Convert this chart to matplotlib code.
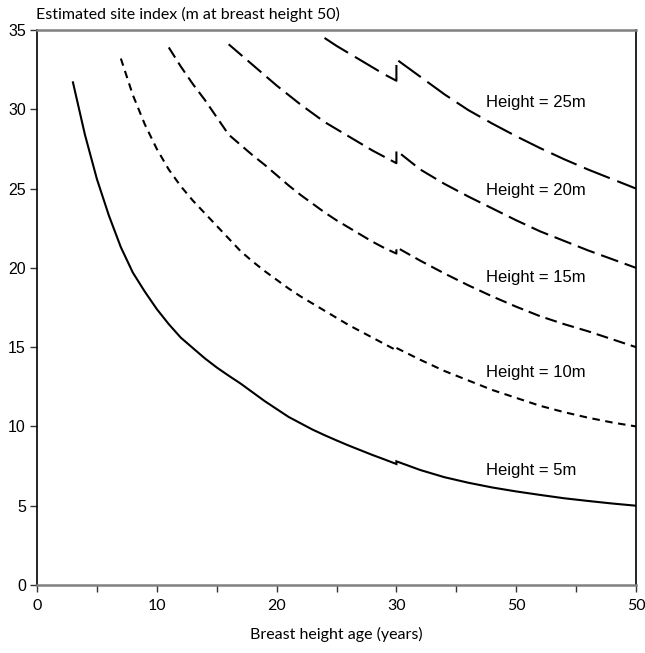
import matplotlib
matplotlib.use("Agg")
import matplotlib.pyplot as plt

plt.rcParams['lines.scale_dashes'] = False

# ---- data ----
h5_age = [3, 4, 5, 6, 7, 8, 9, 10, 11, 12, 13, 14, 15, 16, 17, 18, 19, 20, 21, 22, 23, 24, 25,
          26, 27, 28, 29, 30, 30, 32, 34, 36, 38, 40, 42, 44, 46, 48, 50]
h5_si = [31.7, 28.4, 25.6, 23.3, 21.3, 19.7, 18.5, 17.4, 16.45, 15.6, 14.95, 14.3, 13.72, 13.2,
         12.7, 12.15, 11.6, 11.1, 10.6, 10.2, 9.8, 9.45, 9.12, 8.8, 8.5, 8.2, 7.92, 7.63,
         7.8, 7.25, 6.8, 6.45, 6.15, 5.9, 5.68, 5.47, 5.3, 5.14, 5.0]

h10_age = [7, 8, 9, 10, 11, 12, 13, 14, 15, 16, 17, 18, 19, 20, 21, 22, 23, 24, 25, 26, 27, 28,
           29, 30, 30, 32, 34, 36, 38, 40, 42, 44, 46, 48, 50]
h10_si = [33.2, 30.9, 29.05, 27.5, 26.2, 25.15, 24.25, 23.45, 22.65, 21.85, 21.05, 20.4, 19.8,
          19.25, 18.7, 18.2, 17.75, 17.3, 16.85, 16.4, 16.0, 15.6, 15.2, 14.8,
          14.95, 14.2, 13.5, 12.9, 12.3, 11.8, 11.3, 10.9, 10.55, 10.25, 10.0]

h15_age = [11, 12, 13, 14, 15, 16, 17, 18, 19, 20, 21, 22, 23, 24, 25, 26, 27, 28, 29, 30,
           30, 32, 34, 36, 38, 40, 42, 44, 46, 48, 50]
h15_si = [33.9, 32.7, 31.6, 30.6, 29.5, 28.4, 27.75, 27.1, 26.5, 25.85, 25.2, 24.6, 24.05, 23.5,
          23.0, 22.55, 22.1, 21.65, 21.25, 20.9,
          21.3, 20.45, 19.65, 18.9, 18.2, 17.55, 16.95, 16.45, 16.0, 15.5, 15.0]

h20_age = [16, 17, 18, 19, 20, 21, 22, 23, 24, 25, 26, 27, 28, 29, 30,
           30, 32, 34, 36, 38, 40, 42, 44, 46, 48, 50]
h20_si = [34.1, 33.45, 32.8, 32.15, 31.5, 30.9, 30.3, 29.75, 29.2, 28.75, 28.3, 27.85, 27.4, 27.0, 26.6,
          27.4, 26.2, 25.3, 24.5, 23.75, 23.0, 22.3, 21.7, 21.1, 20.55, 20.0]

h25_age = [24, 25, 26, 27, 28, 29, 30, 30, 32, 34, 36, 38, 40, 42, 44, 46, 48, 50]
h25_si = [34.5, 34.0, 33.55, 33.1, 32.65, 32.2, 31.8, 33.15, 32.05, 30.95, 29.95, 29.1, 28.3,
          27.55, 26.85, 26.2, 25.6, 25.0]

labels = ["Height = 5m", "Height = 10m", "Height = 15m", "Height = 20m", "Height = 25m"]
label_y = [7.2, 13.4, 19.4, 24.9, 30.4]

x_ticks = [0, 10, 20, 30, 40, 50]
x_ticklabels = ["0", "10", "20", "30", "50", "50"]
y_ticks = [0, 5, 10, 15, 20, 25, 30, 35]

title = "Estimated site index (m at breast height 50)"
xlabel = "Breast height age (years)"

# ---- figure ----
fig = plt.figure(figsize=(6.45, 6.53), dpi=100)
ax = fig.add_axes([37 / 645, 1 - 585 / 653, (636 - 37) / 645, (585 - 30) / 653])

lw = 1.5
ax.plot(h5_age, h5_si, color="black", lw=lw, solid_joinstyle="miter")
ax.plot(h10_age, h10_si, color="black", lw=lw, dashes=(5.4, 4.0))
ax.plot(h15_age, h15_si, color="black", lw=lw, dashes=(8.6, 4.3))
ax.plot(h20_age, h20_si, color="black", lw=lw, dashes=(13.0, 5.0))
ax.plot(h25_age, h25_si, color="black", lw=lw, dashes=(20.0, 5.8))

for lab, yv in zip(labels, label_y):
    ax.text(37.5, yv, lab, fontsize=12, family="Liberation Sans", va="center", ha="left")

ax.set_xlim(0, 50)
ax.set_ylim(0, 35)
ax.set_xticks(x_ticks)
ax.set_xticklabels(x_ticklabels, family="Lato", fontsize=11.5)
ax.set_xticks(range(0, 51, 5), minor=True)
ax.set_yticks(y_ticks)
ax.set_yticklabels([str(v) for v in y_ticks], family="Liberation Sans", fontsize=11.5)

ax.tick_params(axis="x", which="both", direction="out", length=5, width=1, color="#333333", pad=5)
ax.tick_params(axis="y", which="major", direction="out", length=5, width=1, color="#333333", pad=3)

for side in ["left", "right"]:
    ax.spines[side].set_color("black")
    ax.spines[side].set_linewidth(1.2)
for side in ["top", "bottom"]:
    ax.spines[side].set_color("#808080")
    ax.spines[side].set_linewidth(1.8)

ax.set_xlabel(xlabel, family="Lato", fontsize=11.5, labelpad=10)
fig.text(36 / 645, 1 - 14 / 653, title, family="Lato", fontsize=11.5, ha="left", va="center")

fig.savefig("out.png", dpi=100)
